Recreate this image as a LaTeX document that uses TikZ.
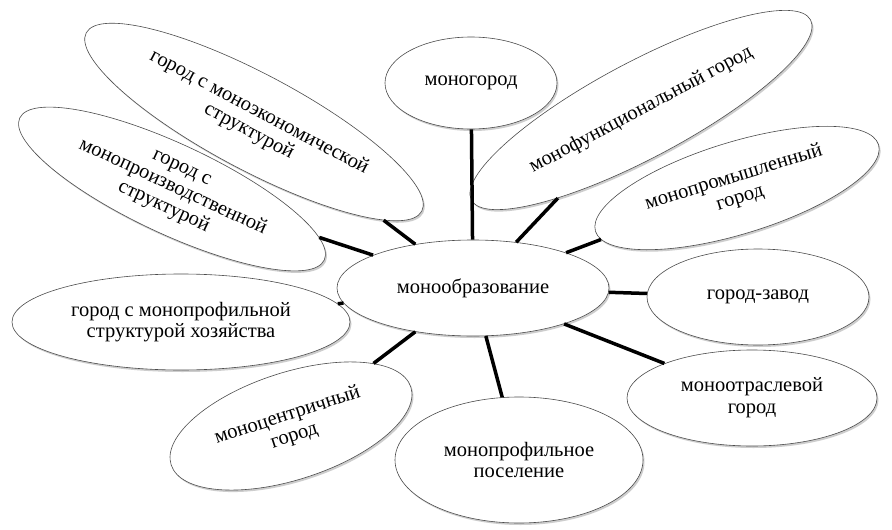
\documentclass[tikz,border=0pt]{standalone}
\usepackage{fontspec}
\newfontfamily\serifru{LiberationSerif}[Extension=.ttf, UprightFont=*-Regular]
\usetikzlibrary{shapes.geometric,shadows}
\tikzset{
  oval/.style={ellipse, draw=black!70, line width=0.6pt, fill=white, inner sep=0pt,
    align=center, font=\serifru\fontsize{20.5}{21.7}\selectfont,
    drop shadow={opacity=0.28, shadow xshift=1.5pt, shadow yshift=-2pt, fill=black!70}},
  link/.style={line width=3.5pt, black}
}
\begin{document}
\begin{tikzpicture}[x=1pt,y=-1pt]
\useasboundingbox[fill=white] (0,0) rectangle (892,530);
\node[oval, minimum width=380pt, minimum height=96pt, rotate=-28] (ekon) at (254,122) {город с моноэкономической\\структурой};
\node[oval, minimum width=336pt, minimum height=90pt, rotate=-25] (proizv) at (172,189) {город с\\монопроизводственной\\структурой};
\node[oval, minimum width=338pt, minimum height=96pt] (khoz) at (181,322) {город с монопрофильной\\структурой хозяйства};
\node[oval, minimum width=252pt, minimum height=107pt, rotate=18] (centr) at (291,426) {моноцентричный\\город};
\node[oval, minimum width=248pt, minimum height=126pt] (posel) at (519,460) {монопрофильное\\поселение};
\node[oval, minimum width=250pt, minimum height=96pt] (otrasl) at (752,398) {моноотраслевой\\город};
\node[oval, minimum width=222pt, minimum height=96pt] (zavod) at (758,297) {город-завод};
\node[oval, minimum width=296pt, minimum height=92pt, rotate=17] (prom) at (737,188) {монопромышленный\\город};
\node[oval, minimum width=172pt, minimum height=92pt] (gorod) at (471,83) {моногород};
\node[oval, minimum width=384pt, minimum height=96pt, rotate=28] (func) at (641,110) {монофункциональный город};
\node[oval, minimum width=272pt, minimum height=96pt] (center) at (473,288) {монообразование};
\foreach \n in {ekon,proizv,khoz,centr,posel,otrasl,zavod,prom,gorod,func}
  \draw[link] (center) -- (\n);
\end{tikzpicture}
\end{document}
